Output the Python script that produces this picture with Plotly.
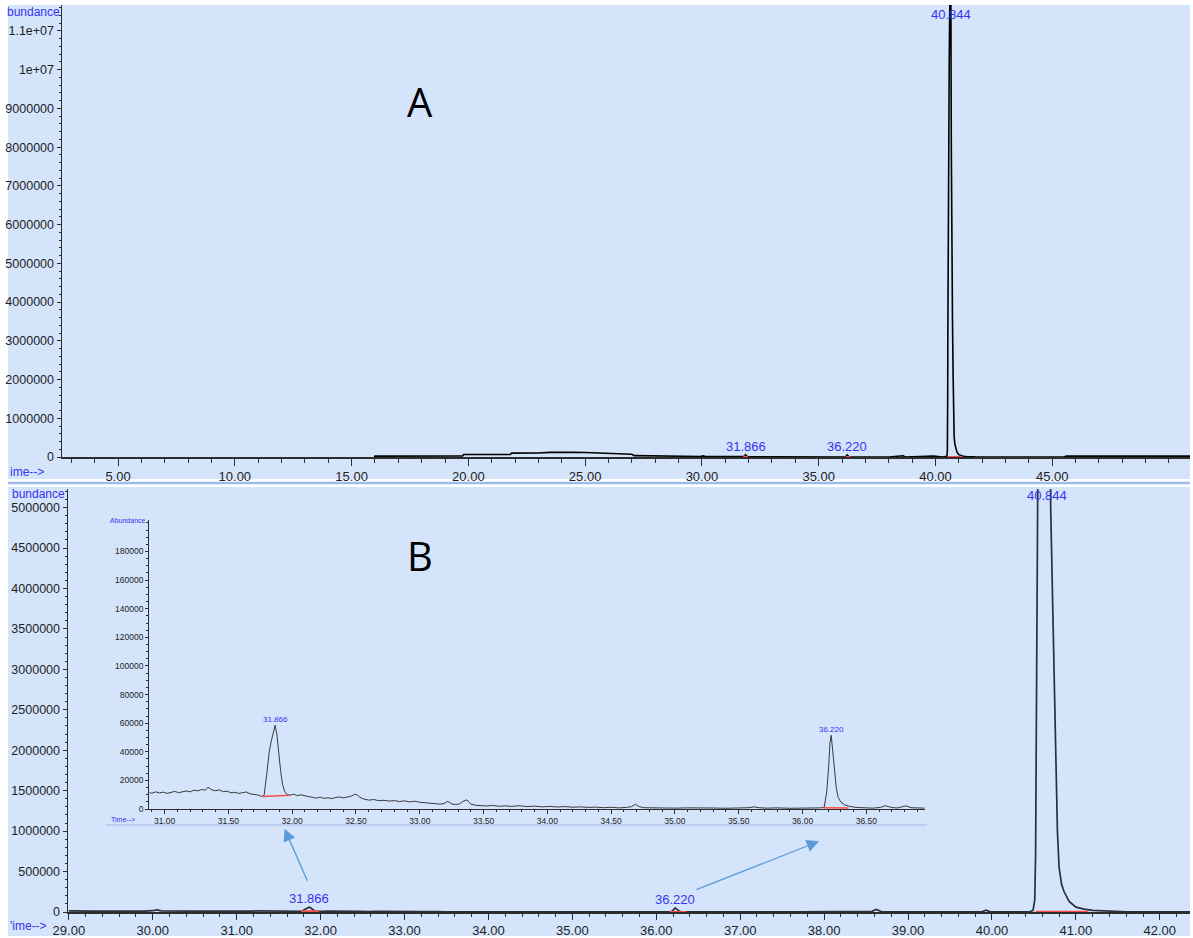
import plotly.graph_objects as go

# ---------------- DATA ----------------
# Panel A : full chromatogram (time in min, abundance)
a_pre_time = [15.98, 16.0, 16.5, 17.5, 18.5, 19.5, 19.75, 19.8, 20.5, 21.0,
              21.8, 21.85, 22.5, 23.0, 23.5, 24.0, 24.5, 25.0, 25.5, 26.0,
              26.5, 27.0, 27.1, 28.0, 29.0, 29.4, 29.5, 29.95, 30.05, 30.15,
              31.0, 31.80, 31.87, 31.95, 33.0, 35.0, 36.15, 36.22, 36.3, 38.0,
              38.62, 38.7, 39.93, 40.3]
a_pre_abund = [0, 25000, 22000, 26000, 24000, 27000, 25000, 65000, 62000, 68000,
               66000, 100000, 98000, 105000, 120000, 128000, 124000, 118000, 104000, 92000,
               85000, 72000, 35000, 28000, 22000, 15000, 12000, 14000, 28000, 13000,
               11500, 9000, 58000, 10000, 4000, 700, 800, 51500, 2000, 700,
               32000, 900, 22000, 1500]

# main peak (shared by A and B)
peak_time = [40.45, 40.49, 40.51, 40.52, 40.525, 40.53, 40.54, 40.56, 40.59, 40.62,
             40.66, 40.68, 40.70, 40.73, 40.76, 40.78, 40.80, 40.83, 40.86, 40.92,
             41.00, 41.10, 41.20, 41.35, 41.45, 41.50]
peak_abund = [2000, 20000, 150000, 700000, 1600000, 3000000, 5200000, 7800000, 10200000, 12000000,
              12100000, 8000000, 5000000, 3500000, 2000000, 1000000, 550000, 340000, 250000, 130000,
              60000, 35000, 20000, 12000, 8000, 2500]

a_post_time = [41.7, 43.0, 44.5, 45.5, 45.6, 46.5, 47.5, 48.5, 49.5, 50.5, 50.9]
a_post_abund = [3000, 1500, 1000, 1200, 22000, 25000, 20000, 24000, 21000, 23000, 22000]

# Panel B : 29 - 42.4 min
b_pre_time = [29.00, 29.10, 29.20, 29.30, 29.40, 29.50, 29.60, 29.70, 29.80, 29.90,
              30.00, 30.05, 30.10, 30.20, 30.30, 30.40, 30.50, 30.60, 30.70, 30.80]
b_pre_abund = [14000, 11000, 13000, 10000, 12500, 11000, 13000, 10500, 12000, 11500,
               16000, 26000, 15000, 12000, 11000, 13000, 10000, 12500, 11000, 12000]

b_mid_time = [37.1, 37.4, 37.7, 38.0, 38.3, 38.5, 38.57, 38.62, 38.68, 38.8,
              39.1, 39.4, 39.7, 39.88, 39.93, 39.98, 40.1, 40.3]
b_mid_abund = [600, 800, 500, 700, 600, 800, 8000, 32000, 6000, 900,
               700, 800, 600, 2000, 22000, 2500, 900, 1500]

b_post_time = [41.6, 41.9, 42.2, 42.4]
b_post_abund = [2500, 1800, 1500, 1200]

# Inset (zoom 30.9 - 37 min)
inset_time = [30.88, 30.90, 30.93, 30.96, 30.99, 31.02, 31.05, 31.08, 31.11, 31.14,
              31.17, 31.20, 31.23, 31.26, 31.29, 31.32, 31.34, 31.37, 31.40, 31.43,
              31.46, 31.49, 31.52, 31.55, 31.58, 31.61, 31.64, 31.67, 31.70, 31.73,
              31.76, 31.78, 31.80, 31.82, 31.835, 31.845, 31.855, 31.866, 31.88, 31.895,
              31.91, 31.925, 31.94, 31.96, 31.98, 32.01, 32.04, 32.07, 32.10, 32.13,
              32.16, 32.19, 32.22, 32.25, 32.28, 32.31, 32.34, 32.37, 32.40, 32.43,
              32.46, 32.49, 32.51, 32.53, 32.56, 32.60, 32.64, 32.68, 32.72, 32.76,
              32.80, 32.84, 32.88, 32.92, 32.96, 33.00, 33.04, 33.08, 33.12, 33.16,
              33.19, 33.22, 33.25, 33.28, 33.31, 33.34, 33.37, 33.40, 33.44, 33.48,
              33.52, 33.57, 33.62, 33.67, 33.72, 33.78, 33.84, 33.90, 33.96, 34.02,
              34.08, 34.14, 34.20, 34.26, 34.32, 34.38, 34.44, 34.50, 34.56, 34.62,
              34.66, 34.69, 34.72, 34.76, 34.82, 34.90, 35.00, 35.10, 35.20, 35.30,
              35.40, 35.50, 35.58, 35.62, 35.66, 35.72, 35.80, 35.90, 36.00, 36.08,
              36.14, 36.17, 36.19, 36.205, 36.215, 36.225, 36.235, 36.25, 36.265, 36.28,
              36.30, 36.33, 36.37, 36.42, 36.48, 36.55, 36.61, 36.65, 36.69, 36.74,
              36.78, 36.81, 36.85, 36.90, 36.955]
inset_abund = [11500, 11000, 12000, 11200, 11800, 10900, 11600, 12300, 11400, 12100,
               12600, 12000, 13200, 12700, 13600, 13100, 15200, 13400, 12800, 13300,
               12100, 12500, 11300, 11700, 10900, 11400, 11900, 10600, 10200, 9800,
               8800, 9500, 24000, 40000, 47000, 50500, 55000, 58500, 52000, 38000,
               26000, 17000, 12500, 10200, 9600, 10300, 9400, 9900, 9000, 8600,
               8200, 7600, 8300, 7400, 7900, 7300, 8000, 8400, 7800, 8600,
               8900, 10300, 9800, 8200, 7000, 6200, 6600, 5800, 6100, 5500,
               5900, 5200, 5700, 5000, 5400, 4700, 4400, 4100, 3700, 3400,
               3800, 5300, 3600, 3100, 3500, 5400, 6400, 3400, 2600, 2400,
               2100, 2500, 1900, 2200, 1800, 2300, 1700, 2000, 1500, 1800,
               1400, 1700, 1200, 1500, 1100, 1300, 900, 1200, 800, 1100,
               1700, 3300, 1600, 900, 700, 900, 600, 800, 500, 700,
               500, 600, 900, 1500, 900, 600, 800, 500, 600, 700,
               800, 1300, 12000, 30000, 46000, 51500, 42000, 27000, 14500, 8000,
               4800, 2900, 1800, 1100, 700, 600, 1100, 2300, 1200, 700,
               1500, 2200, 900, 700, 600]

# integrated peaks
peak_labels = ["31.866", "36.220", "40.844"]
peak_windows = [(31.75, 32.0), (36.1, 36.4), (40.4, 41.0)]
base_start = [31.77, 36.16, 40.52]
base_end = [31.98, 36.36, 41.15]
base_start_val = [8800, 900, 2000]
base_end_val = [9600, 700, 2500]

# axis ticks
a_xticks = [5, 10, 15, 20, 25, 30, 35, 40, 45]
a_yticks = [0, 1000000, 2000000, 3000000, 4000000, 5000000, 6000000,
            7000000, 8000000, 9000000, 10000000, 11000000]
a_yticktext = ["0", "1000000", "2000000", "3000000", "4000000", "5000000", "6000000",
               "7000000", "8000000", "9000000", "1e+07", "1.1e+07"]
inset_yticks = [0, 20000, 40000, 60000, 80000, 100000, 120000, 140000, 160000, 180000]

# ---------------- BUILD ----------------
W, H = 1193, 938
def fx(p):
    return p / W
def fy(p):
    return 1 - p / H

BG = "#d4e4fb"
AX = "#2e2e2e"
TXT = "#1e1e1e"
BLUE = "#3434f0"
RED = "#ff4a4a"
FONT = "Liberation Sans"

time_a = a_pre_time + peak_time + a_post_time
abund_a = a_pre_abund + peak_abund + a_post_abund
time_b = b_pre_time + inset_time + b_mid_time + peak_time + b_post_time
abund_b = b_pre_abund + inset_abund + b_mid_abund + peak_abund + b_post_abund

A_YMAX = 1.167e7
B_YMAX = 5.23e6
I_YMAX = 202000

fig = go.Figure()
fig.add_trace(go.Scatter(x=time_a, y=abund_a, mode="lines", xaxis="x", yaxis="y",
                         line=dict(color="#000000", width=1.6), hoverinfo="skip"))
fig.add_trace(go.Scatter(x=time_b, y=abund_b, mode="lines", xaxis="x2", yaxis="y2",
                         line=dict(color="#2b3038", width=1.7), hoverinfo="skip"))
fig.add_trace(go.Scatter(x=inset_time, y=inset_abund, mode="lines", xaxis="x3", yaxis="y3",
                         line=dict(color="#3a3a3a", width=1), hoverinfo="skip"))

# integration baselines (red)
for xa, ya, w in [("x", "y", 2), ("x2", "y2", 2), ("x3", "y3", 1.5)]:
    for s, e, sv, ev in zip(base_start, base_end, base_start_val, base_end_val):
        if xa == "x3" and s > 37:
            continue
        fig.add_trace(go.Scatter(x=[s, e], y=[sv, ev], mode="lines", xaxis=xa, yaxis=ya,
                                 line=dict(color=RED, width=w), hoverinfo="skip"))

annotations = []

def apex(times, vals, lo, hi):
    best_t, best_v = None, -1
    for t, v in zip(times, vals):
        if lo <= t <= hi and v > best_v:
            best_t, best_v = t, v
    return best_t, best_v

for xa, ya, times, vals, ymax, size, topshift in [
        ("x", "y", time_a, abund_a, A_YMAX, 13, 0),
        ("x2", "y2", time_b, abund_b, B_YMAX, 13, 3),
        ("x3", "y3", inset_time, inset_abund, I_YMAX, 8, 0)]:
    for lab, (lo, hi) in zip(peak_labels, peak_windows):
        if xa == "x3" and lo > 37:
            continue
        t, v = apex(times, vals, lo, hi)
        if v >= ymax:
            annotations.append(dict(x=t, y=ymax, xref=xa, yref=ya, text=lab, showarrow=False,
                                    yanchor="top", yshift=topshift,
                                    font=dict(family=FONT, size=size, color=BLUE)))
        else:
            annotations.append(dict(x=t, y=v, xref=xa, yref=ya, text=lab, showarrow=False,
                                    yanchor="bottom", yshift=-1,
                                    font=dict(family=FONT, size=size, color=BLUE)))

# axis captions
annotations += [
    dict(x=fx(62), y=fy(12), xref="paper", yref="paper", text="bundance", showarrow=False,
         xanchor="right", yanchor="middle", font=dict(family=FONT, size=12, color=BLUE)),
    dict(x=fx(8), y=fy(472), xref="paper", yref="paper", text="ime-->", showarrow=False,
         xanchor="left", yanchor="middle", font=dict(family=FONT, size=12, color=BLUE)),
    dict(x=fx(67), y=fy(494), xref="paper", yref="paper", text="bundance", showarrow=False,
         xanchor="right", yanchor="middle", font=dict(family=FONT, size=12, color=BLUE)),
    dict(x=fx(8), y=fy(926), xref="paper", yref="paper", text="'ime-->", showarrow=False,
         xanchor="left", yanchor="middle", font=dict(family=FONT, size=12, color=BLUE)),
    dict(x=fx(148), y=fy(520), xref="paper", yref="paper", text="Abundance", showarrow=False,
         xanchor="right", yanchor="middle", font=dict(family=FONT, size=7, color=BLUE)),
    dict(x=fx(109), y=fy(819), xref="paper", yref="paper", text="Time-->", showarrow=False,
         xanchor="left", yanchor="middle", font=dict(family=FONT, size=7, color=BLUE)),
    dict(x=fx(420), y=fy(101), xref="paper", yref="paper", text="A", showarrow=False,
         xanchor="center", yanchor="middle", font=dict(family="Open Sans", size=40, color="#000000")),
    dict(x=fx(420), y=fy(555), xref="paper", yref="paper", text="B", showarrow=False,
         xanchor="center", yanchor="middle", font=dict(family="Open Sans", size=40, color="#000000")),
]

# arrows (panel B data coordinates)
ARROW = "#5b9bd5"
for (hx, hy, tx, ty) in [(31.57, 1030000, 31.85, 367000), (37.94, 874000, 36.46, 268000)]:
    annotations.append(dict(x=hx, y=hy, xref="x2", yref="y2", ax=tx, ay=ty, axref="x2", ayref="y2",
                            text="", showarrow=True, arrowhead=2, arrowsize=1.9, arrowwidth=1.3,
                            arrowcolor=ARROW))

shapes = [
    dict(type="rect", xref="paper", yref="paper", x0=fx(8), x1=fx(1190), y0=fy(479), y1=fy(5),
         fillcolor=BG, line=dict(width=0), layer="below"),
    dict(type="rect", xref="paper", yref="paper", x0=fx(8), x1=fx(1190), y0=fy(936), y1=fy(487),
         fillcolor=BG, line=dict(width=0), layer="below"),
    dict(type="line", xref="paper", yref="paper", x0=fx(8), x1=fx(1190), y0=fy(483), y1=fy(483),
         line=dict(color="#9ebbed", width=2.5)),
    dict(type="line", xref="paper", yref="paper", x0=fx(106), x1=fx(927), y0=fy(825), y1=fy(825),
         line=dict(color="#a7b8e2", width=1)),
]

def xaxis_style(domain, rng, anchor, tickfont, ticklen, minor_dtick, minor_len, **kw):
    d = dict(domain=domain, range=rng, anchor=anchor, showline=True, linecolor=AX, linewidth=1.5,
             ticks="outside", ticklen=ticklen, tickwidth=1, tickcolor=AX, showgrid=False,
             zeroline=False, tickformat=".2f", tickfont=dict(family=FONT, size=tickfont, color=TXT),
             minor=dict(tickmode="linear", tick0=0, dtick=minor_dtick, ticks="outside",
                        ticklen=minor_len, tickcolor=AX, tickwidth=1, showgrid=False),
             fixedrange=True, automargin=False)
    d.update(kw)
    return d

def yaxis_style(domain, rng, anchor, tickfont, ticklen, minor_dtick, minor_len, **kw):
    d = dict(domain=domain, range=rng, anchor=anchor, showline=True, linecolor=AX, linewidth=1.5,
             ticks="outside", ticklen=ticklen, tickwidth=1, tickcolor=AX, showgrid=False,
             zeroline=False, tickfont=dict(family=FONT, size=tickfont, color=TXT),
             minor=dict(tickmode="linear", tick0=0, dtick=minor_dtick, ticks="outside",
                        ticklen=minor_len, tickcolor=AX, tickwidth=1, showgrid=False),
             fixedrange=True, automargin=False)
    d.update(kw)
    return d

fig.update_layout(
    template="none",
    width=W, height=H, margin=dict(l=0, r=0, t=0, b=0, pad=0), autosize=False,
    paper_bgcolor="#ffffff", plot_bgcolor="rgba(0,0,0,0)", showlegend=False,
    xaxis=xaxis_style([fx(62), fx(1190)], [2.6, 50.9], "y", 13, 7, 1, 4,
                      tickmode="array", tickvals=a_xticks),
    yaxis=yaxis_style([fy(457), fy(5)], [0, A_YMAX], "x", 12.5, 4, 200000, 2,
                      tickmode="array", tickvals=a_yticks, ticktext=a_yticktext),
    xaxis2=xaxis_style([fx(68), fx(1190)], [28.99, 42.36], "y2", 13, 6, 0.2, 3,
                       tickmode="linear", tick0=0, dtick=1),
    yaxis2=yaxis_style([fy(912), fy(489)], [0, B_YMAX], "x2", 12.5, 4, 100000, 2,
                       tickmode="linear", tick0=0, dtick=500000, tickformat="d"),
    xaxis3=xaxis_style([fx(149.3), fx(925)], [30.88, 36.96], "y3", 8.5, 4, 0.1, 2,
                       tickmode="linear", tick0=0, dtick=0.5, linewidth=1.2),
    yaxis3=yaxis_style([fy(809), fy(520)], [0, I_YMAX], "x3", 8.5, 3, 5000, 2,
                       tickmode="array", tickvals=inset_yticks, tickformat="d", linewidth=1.2),
    annotations=annotations,
    shapes=shapes,
)

fig.write_html("out.html", config={"displayModeBar": False, "staticPlot": True},
               post_script="document.body.style.margin='0';document.body.style.overflow='hidden';")
